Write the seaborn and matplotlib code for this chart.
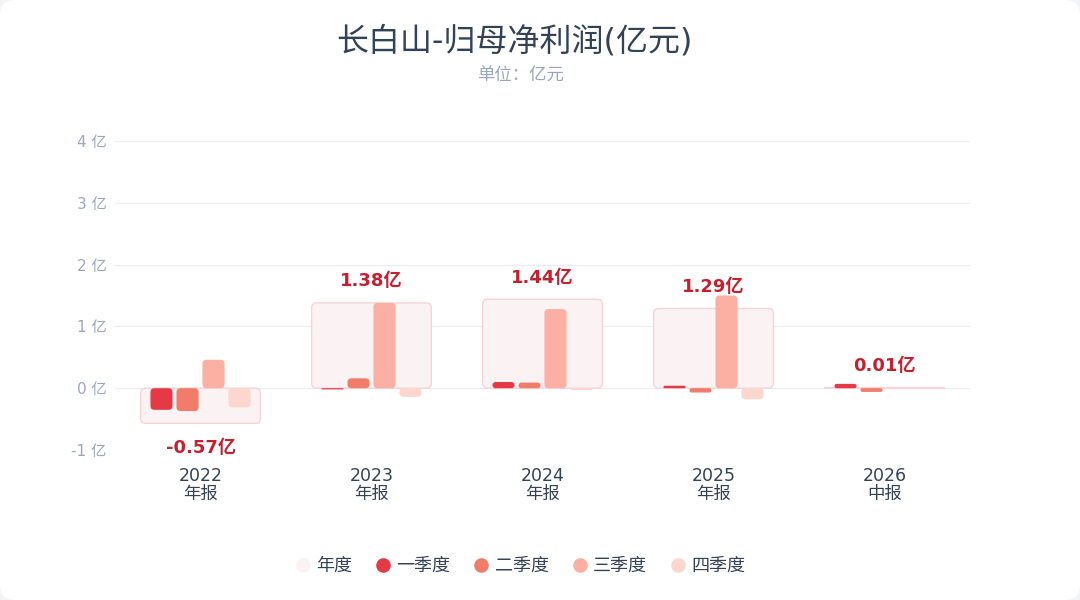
import matplotlib
matplotlib.use("Agg")
import matplotlib.pyplot as plt
import seaborn as sns
import pandas as pd
import numpy as np
from matplotlib.patches import FancyBboxPatch
from matplotlib.lines import Line2D

# data (亿元)
periods = ["2022\n年报", "2023\n年报", "2024\n年报", "2025\n年报", "2026\n中报"]
annual = [-0.57, 1.38, 1.44, 1.29, 0.01]
q1 = [-0.35, -0.02, 0.10, 0.04, 0.07]
q2 = [-0.37, 0.16, 0.09, -0.07, -0.06]
q3 = [0.46, 1.38, 1.28, 1.50, np.nan]
q4 = [-0.31, -0.14, -0.03, -0.18, np.nan]
quarter_names = ["一季度", "二季度", "三季度", "四季度"]
yticks = [-1, 0, 1, 2, 3, 4]

quarter_colors = ["#e63946", "#f07c69", "#fcb0a3", "#fdd6cd"]
annual_face = "#fbf2f3"
annual_edge = "#f6d3d8"
label_red = "#c4202f"
text_dark = "#344256"
text_gray = "#9aa6bd"

sns.set_theme(style="white")
plt.rcParams['font.family'] = ['DejaVu Sans', 'Noto Sans CJK SC']

fig = plt.figure(figsize=(10.8, 6), dpi=100, facecolor="#f4f5f7")
card = FancyBboxPatch((0, 0), 1, 1, boxstyle="round,pad=0,rounding_size=0.014",
                      transform=fig.transFigure, facecolor="white", edgecolor="none",
                      mutation_aspect=1.8, zorder=-10)
fig.patches.append(card)

L, R, T, B = 115, 970, 141, 450
ax = fig.add_axes([L / 1080, 1 - B / 600, (R - L) / 1080, (B - T) / 600])
ax.set_facecolor("none")
ax.set_zorder(1)

df_annual = pd.DataFrame({"period": periods, "value": annual})
df_q = pd.DataFrame({"period": periods, "一季度": q1, "二季度": q2, "三季度": q3, "四季度": q4})
df_q = df_q.melt(id_vars="period", var_name="quarter", value_name="value").dropna()

# annual background boxes
sns.barplot(data=df_annual, x="period", y="value", order=periods, color=annual_face,
            width=0.70, ax=ax, zorder=1, errorbar=None, saturation=1)
n_annual = len(ax.patches)
for p in ax.patches:
    p.set_edgecolor(annual_edge)
    p.set_linewidth(1.0)

sns.barplot(data=df_q, x="period", y="value", hue="quarter", order=periods,
            hue_order=quarter_names, palette=quarter_colors, width=0.608, gap=0.15,
            ax=ax, zorder=2, errorbar=None, saturation=1, legend=False, linewidth=0)

ax.set_xlim(-0.5, len(periods) - 0.5)
ax.set_ylim(-1, 4)

# round corners of bars
xu = (len(periods)) / (R - L)
yu = 5 / (B - T)
aspect = yu / xu
for i, p in enumerate(list(ax.patches)):
    x, y, w, h = p.get_x(), p.get_y(), p.get_width(), p.get_height()
    if np.isnan(h) or w == 0:
        continue
    if h < 0:
        y, h = y + h, -h
    r_px = 5 if i < n_annual else 4
    r = min(r_px * xu, h / aspect / 2, w / 2)
    newp = FancyBboxPatch((x, y), w, h, boxstyle=f"round,pad=0,rounding_size={r}",
                          mutation_aspect=aspect, facecolor=p.get_facecolor(),
                          edgecolor=p.get_edgecolor() if i < n_annual else "none",
                          linewidth=p.get_linewidth() if i < n_annual else 0,
                          zorder=p.get_zorder())
    p.remove()
    ax.add_patch(newp)

# annual value labels
for i, v in enumerate(annual):
    if v >= 0:
        ax.annotate(f"{v:.2f}亿", (i, v), xytext=(0, 9), textcoords="offset points",
                    ha="center", va="bottom", fontsize=13, fontweight="bold", color=label_red)
    else:
        ax.annotate(f"{v:.2f}亿", (i, v), xytext=(0, -11), textcoords="offset points",
                    ha="center", va="top", fontsize=13, fontweight="bold", color=label_red)

ax.set_yticks(yticks)
ax.set_yticklabels([f"{t} 亿" for t in yticks], color=text_gray, fontsize=11)
ax.set_xticks(range(len(periods)))
ax.set_xticklabels(periods, color=text_dark, fontsize=12.5, linespacing=0.95)
ax.tick_params(axis="y", length=0, pad=6)
ax.tick_params(axis="x", length=0, pad=12.5)
ax.set_xlabel("")
ax.set_ylabel("")
ax.grid(axis="y", color="#ebebf0", linewidth=0.8)
ax.set_axisbelow(True)
for s in ax.spines.values():
    s.set_visible(False)

fig.text(514 / 1080, 1 - 42 / 600, "长白山-归母净利润(亿元)", ha="center", va="center",
         fontsize=23, color=text_dark)
fig.text(520 / 1080, 1 - 76 / 600, "单位：亿元", ha="center", va="center",
         fontsize=12.5, color=text_gray, family=['Noto Sans CJK SC', 'DejaVu Sans'])

handles = [Line2D([], [], marker="o", linestyle="", markersize=10.5, markerfacecolor=c,
                  markeredgecolor="none") for c in [annual_face] + quarter_colors]
fig.legend(handles, ["年度"] + quarter_names, loc="center", ncol=5,
           bbox_to_anchor=(520 / 1080, 1 - 566 / 600), frameon=False, fontsize=13,
           handlelength=0.9, handletextpad=0.3, columnspacing=1.25, labelcolor=text_dark)

fig.savefig("out.png", dpi=100, facecolor=fig.get_facecolor())
